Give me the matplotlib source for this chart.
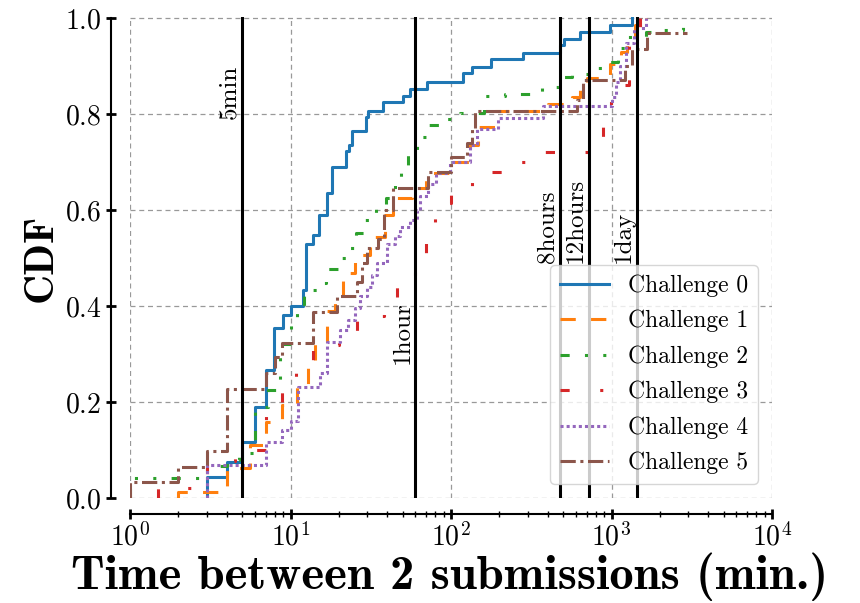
import matplotlib
matplotlib.use("Agg")
import matplotlib.pyplot as plt

plt.rcParams["font.family"] = "cmr10"
plt.rcParams["mathtext.fontset"] = "cm"
plt.rcParams["axes.formatter.use_mathtext"] = True

# zeit (min.) ab der die stufe gilt, und cdf-wert danach
c0_x = [3.0, 3.0, 4.0, 5.0, 6.0, 7.0, 7.9, 8.95, 10.0, 12.0, 12.5, 13.9, 15.1, 17.0, 18.1,
        22.2, 23.3, 24.0, 29.5, 30.5, 37.6, 50, 55.5, 70.7, 119, 136, 177, 281, 478, 506,
        639, 981, 1340]
c0_y = [0.0, 0.044, 0.076, 0.117, 0.19, 0.267, 0.354, 0.381, 0.40, 0.433, 0.53, 0.548, 0.59,
        0.635, 0.69, 0.723, 0.735, 0.765, 0.794, 0.807, 0.824, 0.8375, 0.853, 0.867, 0.885,
        0.897, 0.914, 0.928, 0.944, 0.956, 0.97, 0.985, 1.0]

c1_x = [2.0, 2.0, 4.0, 5.6, 7.0, 8.9, 11.0, 12.9, 14.2, 16.9, 18.9, 21.3, 25.2, 31.3, 38.9,
        43.5, 57, 70, 98.6, 131, 147, 188, 400, 570, 640, 700, 980, 1150, 1250, 1400, 1650]
c1_y = [0.0, 0.012, 0.062, 0.11, 0.159, 0.194, 0.233, 0.277, 0.323, 0.39, 0.423, 0.468, 0.506,
        0.544, 0.59, 0.625, 0.645, 0.676, 0.70, 0.735, 0.772, 0.807, 0.82, 0.835, 0.86, 0.875,
        0.905, 0.93, 0.955, 0.985, 1.0]

c2_x = [1.0, 1.0, 3.0, 4.0, 4.8, 6.0, 7.2, 8.6, 10.0, 11.0, 12.2, 15.0, 16.6, 19.8, 22.5, 25.5,
        29, 34, 39.5, 44.5, 49, 54, 61, 72, 85, 114, 160, 217, 367, 470, 570, 760, 930, 1090,
        1240, 1650, 2090, 2790, 2950]
c2_y = [0.0, 0.041, 0.067, 0.08, 0.093, 0.19, 0.225, 0.32, 0.375, 0.40, 0.433, 0.447, 0.478,
        0.50, 0.52, 0.553, 0.58, 0.604, 0.625, 0.659, 0.69, 0.725, 0.753, 0.777, 0.789, 0.803,
        0.8375, 0.842, 0.857, 0.876, 0.883, 0.895, 0.909, 0.9375, 0.961, 0.971, 0.974, 0.99,
        0.99]

c3_x = [1.5, 1.5, 3.0, 4.5, 7.0, 8.8, 10.8, 13.8, 20, 26, 38, 46, 60, 70, 80, 100, 135, 210,
        310, 880, 990, 1280, 1500]
c3_y = [0.0, 0.02, 0.078, 0.10, 0.18, 0.235, 0.279, 0.319, 0.344, 0.379, 0.40, 0.46, 0.49,
        0.55, 0.614, 0.65, 0.68, 0.70, 0.72, 0.80, 0.86, 0.982, 1.0]

c4_x = [3.0, 3.0, 7.0, 8.8, 10.0, 11.2, 15.3, 16.8, 20.3, 22.9, 25.2, 27.0, 29.9, 32.1, 34.4,
        40, 44.8, 48, 55.5, 61.5, 64, 72, 81, 98.6, 131, 145, 195, 375, 1000, 1060, 1130, 1230,
        1380, 1650]
c4_y = [0.0, 0.069, 0.117, 0.142, 0.16, 0.232, 0.26, 0.326, 0.35, 0.371, 0.395, 0.42, 0.44,
        0.465, 0.49, 0.53, 0.545, 0.565, 0.58, 0.60, 0.63, 0.655, 0.677, 0.70, 0.735, 0.768,
        0.792, 0.817, 0.836, 0.867, 0.90, 0.947, 0.98, 1.0]

c5_x = [1.0, 1.0, 2.0, 3.0, 4.0, 7.0, 8.0, 8.9, 13.9, 19.5, 25.8, 28, 30, 35, 38.5, 43.6, 72,
        100, 125, 136, 141, 610, 665, 1214, 1340, 1660, 2960]
c5_y = [0.0, 0.034, 0.064, 0.098, 0.228, 0.26, 0.293, 0.322, 0.388, 0.42, 0.45, 0.49, 0.52,
        0.54, 0.60, 0.645, 0.68, 0.71, 0.74, 0.77, 0.806, 0.83, 0.871, 0.90, 0.935, 0.968,
        0.968]

serien_x = [c0_x, c1_x, c2_x, c3_x, c4_x, c5_x]
serien_y = [c0_y, c1_y, c2_y, c3_y, c4_y, c5_y]
namen = ["Challenge 0", "Challenge 1", "Challenge 2", "Challenge 3", "Challenge 4", "Challenge 5"]
stile = ["-", (0, (5, 5)), (0, (3, 5, 1, 5, 1, 5)), (0, (3, 10, 1, 10)), (0, (1, 1)),
         (0, (5, 1.5, 1, 1.5))]

marken = [5, 60, 480, 720, 1440]
marken_text = ["5min", "1hour", "8hours", "12hours", "1day"]
marken_hoehe = [0.79, 0.28, 0.49, 0.49, 0.49]

fig = plt.figure(figsize=(8.6, 6.03), dpi=100)
ax = fig.add_axes([130 / 860, 1 - 498 / 603, 642 / 860, 481 / 603])

for sx, sy, name, st in zip(serien_x, serien_y, namen, stile):
    ax.step(sx, sy, where="post", linestyle=st, linewidth=2.2, label=name)

for m, t, h in zip(marken, marken_text, marken_hoehe):
    ax.axvline(m, color="black", linewidth=2.2)
    ax.text(m * 0.97, h, t, rotation=90, ha="right", va="bottom", fontsize=18)

ax.set_xscale("log")
ax.set_xlim(1, 1e4)
ax.set_ylim(0, 1.002)
ax.set_yticks([0.0, 0.2, 0.4, 0.6, 0.8, 1.0])
ax.grid(True, which="major", linestyle=(0, (4, 3)), color="#999999", linewidth=0.9)

for s in ["top", "right"]:
    ax.spines[s].set_visible(False)
ax.spines["left"].set_position(("outward", 13.5))
ax.spines["bottom"].set_position(("outward", 11.5))
ax.spines["left"].set_bounds(0, 1)
ax.spines["bottom"].set_bounds(1, 1e4)
ax.spines["left"].set_linewidth(1.5)
ax.spines["bottom"].set_linewidth(1.5)
ax.tick_params(which="major", direction="inout", length=7, width=2, labelsize=20)
ax.tick_params(axis="x", which="major", pad=2.5)
ax.tick_params(which="minor", direction="inout", length=4, width=1)

ax.set_xlabel("Time between 2 submissions (min.)", fontfamily="cmb10", fontsize=35)
ax.xaxis.set_label_coords(0.497, -0.113)
ax.set_ylabel("CDF", fontfamily="cmb10", fontsize=30)

ax.legend(loc="lower right", fontsize=17, handlelength=2.1, labelspacing=0.55,
          borderaxespad=0.6)

fig.savefig("out.png", dpi=100)
